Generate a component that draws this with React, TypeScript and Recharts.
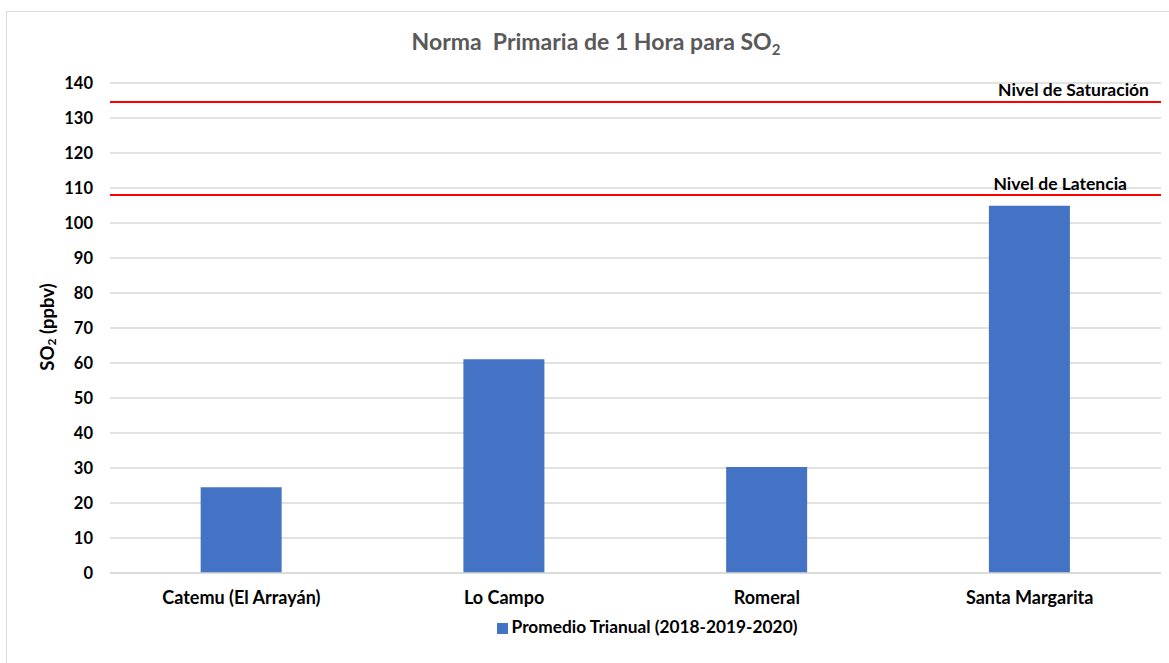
import React from "react";
import {
  BarChart,
  Bar,
  XAxis,
  YAxis,
  CartesianGrid,
  ReferenceLine,
  Legend,
} from "recharts";

const stations = ["Catemu (El Arrayán)", "Lo Campo", "Romeral", "Santa Margarita"];
const promedio = [24.5, 61.1, 30.3, 104.9];
const yTicks = [0, 10, 20, 30, 40, 50, 60, 70, 80, 90, 100, 110, 120, 130, 140];
const nivelSaturacion = 134.6;
const nivelLatencia = 108;
const seriesName = "Promedio Trianual (2018-2019-2020)";

const data = stations.map((s, i) => ({ station: s, value: promedio[i] }));

const FONT = "Lato, 'Liberation Sans', sans-serif";

const refLabel = (text: string, dxRight: number, dy: number) => (props: any) => {
  const vb = props.viewBox || {};
  return (
    <text
      x={vb.x + vb.width - dxRight}
      y={vb.y - dy}
      textAnchor="end"
      fontFamily={FONT}
      fontWeight={700}
      fontSize={17.5}
      fill="#000"
    >
      {text}
    </text>
  );
};

const yLabel = (props: any) => {
  const vb = props.viewBox || {};
  const cx = 47;
  const cy = vb.y + vb.height / 2 - 1;
  return (
    <text
      x={cx}
      y={cy}
      transform={`rotate(-90, ${cx}, ${cy})`}
      textAnchor="middle"
      dominantBaseline="central"
      fontFamily={FONT}
      fontWeight={700}
      fontSize={18.5}
      fill="#000"
    >
      SO
      <tspan fontSize={12} dy={4}>2</tspan>
      <tspan dy={-4}> (ppbv)</tspan>
    </text>
  );
};

export default function App() {
  return (
    <div
      style={{
        position: "absolute",
        left: 0,
        top: 0,
        width: 1169,
        height: 663,
        overflow: "hidden",
        background: "#fff",
      }}
    >
      <div
        style={{
          position: "absolute",
          left: 6,
          top: 11,
          width: 1180,
          height: 680,
          border: "1px solid #d9d9d9",
          boxSizing: "border-box",
        }}
      />
      <div
        style={{
          position: "absolute",
          left: 0,
          top: 27,
          width: 1192,
          textAlign: "center",
          fontFamily: FONT,
          fontWeight: 700,
          fontSize: 23,
          color: "#595959",
          whiteSpace: "pre",
        }}
      >
        {"Norma  Primaria de 1 Hora para SO"}
        <sub style={{ fontSize: 15, verticalAlign: "-5px" }}>2</sub>
      </div>
      <div style={{ position: "absolute", left: 0, top: 0 }}>
        <BarChart
          width={1169}
          height={663}
          data={data}
          margin={{ top: 83, right: 8, bottom: 60, left: 50 }}
          barCategoryGap="34.5%"
        >
          <CartesianGrid vertical={false} stroke="#d9d9d9" strokeWidth={1.3} />
          <XAxis
            dataKey="station"
            height={30}
            axisLine={{ stroke: "#d9d9d9", strokeWidth: 1.3 }}
            tickLine={false}
            tickMargin={12}
            tick={{ fontFamily: FONT, fontWeight: 700, fontSize: 18, fill: "#000" }}
            interval={0}
          />
          <YAxis
            width={60}
            domain={[0, 140]}
            ticks={yTicks}
            interval={0}
            axisLine={false}
            tickLine={false}
            tickSize={6}
            tickMargin={11}
            tick={{ fontFamily: FONT, fontWeight: 700, fontSize: 16.5, fill: "#000" }}
            label={yLabel}
          />
          <Bar
            dataKey="value"
            name={seriesName}
            fill="#4472C4"
            isAnimationActive={false}
          />
          <ReferenceLine
            y={nivelSaturacion}
            stroke="#ff0000"
            strokeWidth={2}
            label={refLabel("Nivel de Saturación", 12, 6)}
          />
          <ReferenceLine
            y={nivelLatencia}
            stroke="#ff0000"
            strokeWidth={2}
            label={refLabel("Nivel de Latencia", 34, 5)}
          />
          <Legend
            layout="horizontal"
            verticalAlign="middle"
            align="center"
            iconType="square"
            iconSize={11}
            wrapperStyle={{
              top: 616,
              left: 140,
              width: 1024,
              fontFamily: FONT,
              fontWeight: 700,
              fontSize: 17.3,
            }}
            formatter={(v: string) => <span style={{ color: "#000" }}>{v}</span>}
          />
        </BarChart>
      </div>
    </div>
  );
}
